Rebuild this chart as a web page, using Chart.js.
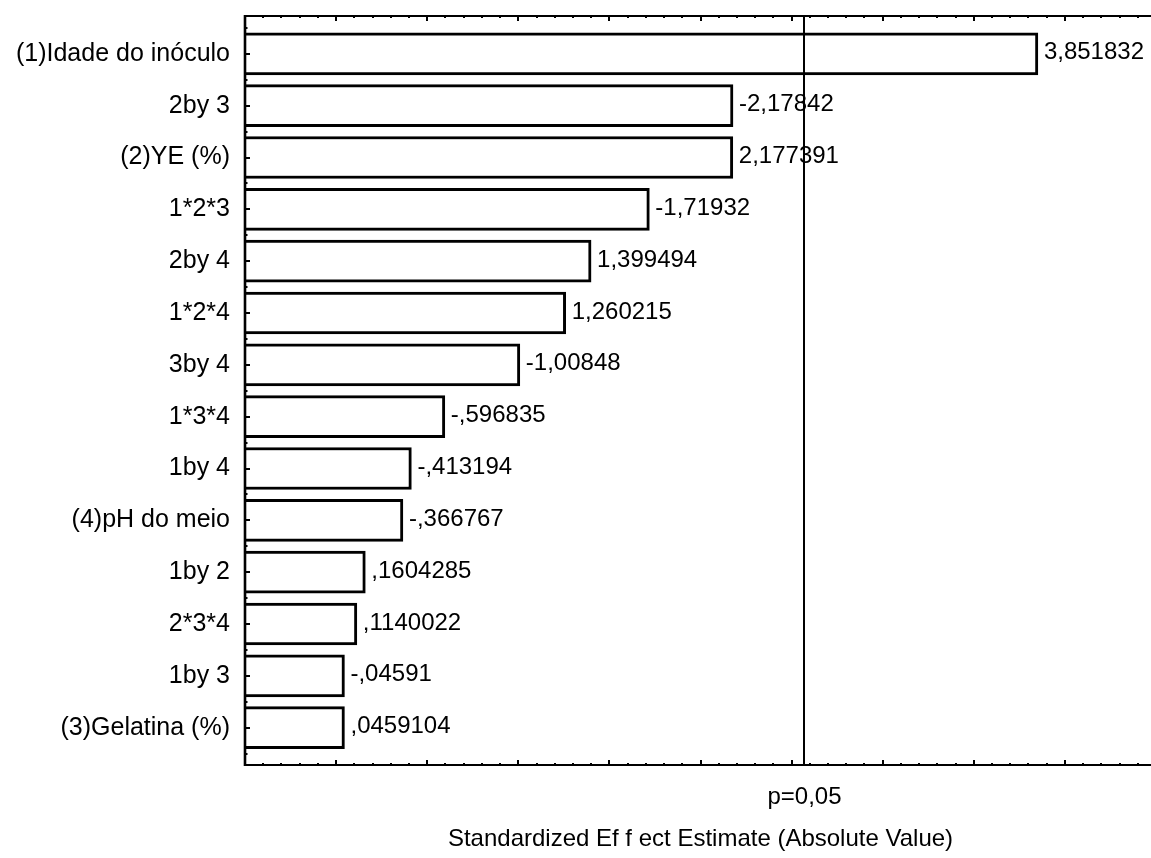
<!DOCTYPE html>
<html>
<head>
<meta charset="utf-8">
<script src="https://cdn.jsdelivr.net/npm/chart.js@4/dist/chart.umd.min.js"></script>
<style>
  html, body { margin: 0; padding: 0; background: #fff; overflow: hidden; }
  #wrap { width: 1160px; height: 858px; position: relative; }
</style>
</head>
<body>
<div id="wrap"><canvas id="pareto"></canvas></div>
<script>
// Pareto chart of standardized effects (t values), sorted by absolute size
const effectNames = [
  "(1)Idade do inóculo", "2by 3", "(2)YE (%)", "1*2*3", "2by 4", "1*2*4", "3by 4",
  "1*3*4", "1by 4", "(4)pH do meio", "1by 2", "2*3*4", "1by 3", "(3)Gelatina (%)"
];
const effectEstimates = [
  3.851832, -2.17842, 2.177391, -1.71932, 1.399494, 1.260215, -1.00848,
  -0.596835, -0.413194, -0.366767, 0.1604285, 0.1140022, -0.04591, 0.0459104
];
const criticalT = 2.570582;          // two-sided t for p = 0.05 with 5 df
const criticalLabel = "p=0,05";
const axisTitle = "Standardized Ef f ect Estimate (Absolute Value)";
const xRange = [-0.5, 4.5];
const majorStep = 0.5;
const minorStep = 0.1;

const FONT = "'Liberation Sans', Arial, Helvetica, sans-serif";
Chart.defaults.font.family = FONT;
Chart.defaults.color = '#000';

// StatSoft-style number text: comma decimal, no leading zero
function formatEffect(v) {
  let s = Number(v.toPrecision(7)).toString();
  s = s.replace(/^(-?)0\./, '$1.');
  return s.replace('.', ',');
}

function seg(ctx, x1, y1, x2, y2) {
  ctx.beginPath();
  ctx.moveTo(x1, y1);
  ctx.lineTo(x2, y2);
  ctx.stroke();
}

// Frame, inward tick marks, the significance line and the value labels
const paretoDecor = {
  id: 'paretoDecor',
  afterDatasetsDraw(chart) {
    const { ctx, chartArea: a, scales: { x, y } } = chart;
    ctx.save();
    ctx.strokeStyle = '#000';
    ctx.lineCap = 'butt';

    // x tick marks on top and bottom edges
    ctx.lineWidth = 2;
    const kStart = Math.round(xRange[0] / minorStep);
    const kEnd = Math.round(xRange[1] / minorStep);
    const perMajor = Math.round(majorStep / minorStep);
    for (let k = kStart; k <= kEnd; k++) {
      const px = Math.round(x.getPixelForValue(k * minorStep));
      const len = (k % perMajor === 0) ? 5 : 2;
      seg(ctx, px, a.top, px, a.top + len);
      seg(ctx, px, a.bottom, px, a.bottom - len);
    }

    // y tick marks: at each effect and between neighbours
    for (let i = 0; i < effectNames.length; i++) {
      const py = Math.round(y.getPixelForValue(i));
      seg(ctx, a.left, py, a.left + 5, py);
    }
    for (let i = -1; i < effectNames.length; i++) {
      const py = Math.round(y.getPixelForValue(i + 0.5));
      seg(ctx, a.left, py, a.left + 2.5, py);
    }

    // frame
    ctx.lineWidth = 2;
    seg(ctx, a.left - 1, a.top, a.right + 10, a.top);
    seg(ctx, a.left - 1, a.bottom, a.right + 10, a.bottom);
    ctx.lineWidth = 2.6;
    seg(ctx, a.left, a.top - 1, a.left, a.bottom + 1);

    // significance line
    ctx.lineWidth = 2;
    const cx = Math.round(x.getPixelForValue(criticalT));
    seg(ctx, cx, a.top, cx, a.bottom);

    // value labels at bar ends
    ctx.fillStyle = '#000';
    ctx.font = '24px ' + FONT;
    ctx.textAlign = 'left';
    ctx.textBaseline = 'middle';
    const bars = chart.getDatasetMeta(0).data;
    bars.forEach((bar, i) => {
      ctx.fillText(formatEffect(effectEstimates[i]), bar.x + 6, bar.y - 1);
    });
    ctx.restore();
  }
};

new Chart(document.getElementById('pareto'), {
  type: 'bar',
  data: {
    datasets: [{
      data: effectEstimates.map((v, i) => ({ x: Math.abs(v), y: i })),
      base: xRange[0],
      backgroundColor: '#fff',
      borderColor: '#000',
      borderWidth: 3,
      borderSkipped: 'start',
      barThickness: 42
    }]
  },
  options: {
    indexAxis: 'y',
    responsive: true,
    maintainAspectRatio: false,
    animation: false,
    layout: { padding: { top: 16, left: 0, right: 4, bottom: 0 } },
    plugins: { legend: { display: false }, tooltip: { enabled: false } },
    scales: {
      x: {
        type: 'linear',
        min: xRange[0],
        max: xRange[1],
        grid: { display: false, drawTicks: false },
        border: { display: false },
        afterBuildTicks(scale) { scale.ticks = [{ value: criticalT }]; },
        afterFit(scale) { scale.height = 93; scale.paddingLeft = 0; scale.paddingRight = 0; },
        ticks: {
          autoSkip: false,
          maxRotation: 0,
          padding: 18,
          font: { size: 24 },
          callback: () => criticalLabel
        },
        title: {
          display: true,
          text: axisTitle,
          font: { size: 24 },
          padding: { top: 0, bottom: 4 }
        }
      },
      y: {
        type: 'linear',
        reverse: true,
        offset: false,
        min: -0.73,
        max: 13.72,
        grid: { display: false, drawTicks: false, offset: false },
        border: { display: false },
        afterBuildTicks(scale) { scale.ticks = effectNames.map((_, i) => ({ value: i })); },
        afterFit(scale) { scale.width = 245; scale.paddingTop = 0; scale.paddingBottom = 0; },
        ticks: {
          autoSkip: false,
          padding: 15,
          font: { size: 25 },
          callback: (v) => effectNames[v]
        }
      }
    }
  },
  plugins: [paretoDecor]
});
</script>
</body>
</html>
